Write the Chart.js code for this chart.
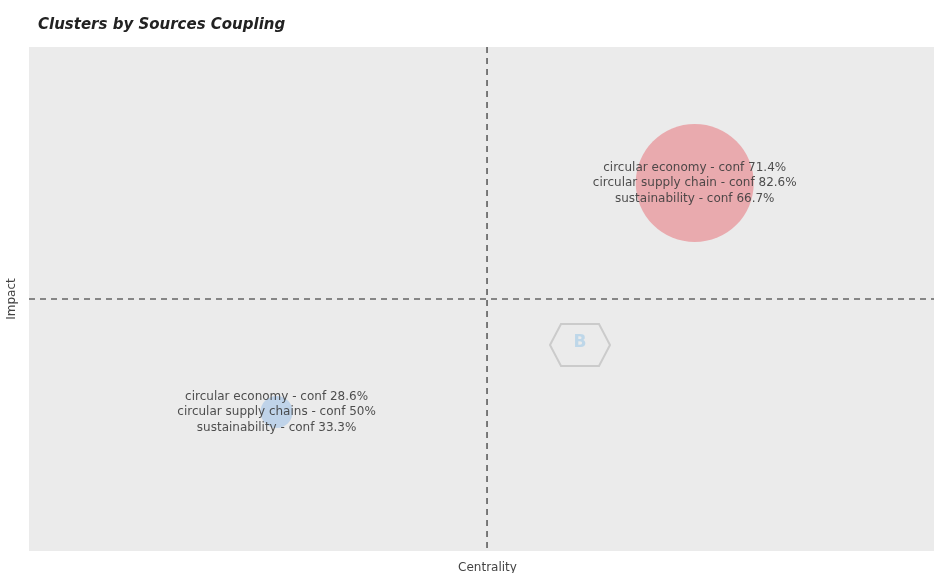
<!DOCTYPE html>
<html>
<head>
<meta charset="utf-8">
<script src="https://cdn.jsdelivr.net/npm/chart.js@4"></script>
<style>
  html, body { margin: 0; padding: 0; background: #ffffff; overflow: hidden; }
  #wrap { position: relative; width: 946px; height: 573px; }
</style>
</head>
<body>
<div id="wrap"><canvas id="c" width="946" height="573"></canvas></div>
<script>
// ---- data ----
const chartTitle = "Clusters by Sources Coupling";
const xAxisTitle = "Centrality";
const yAxisTitle = "Impact";
const clusterCentrality = [0.726, 0.270];
const clusterImpact = [0.730, 0.276];
const clusterSize = [59, 16];
const clusterColors = ["#e9aaae", "#bfd3e9"];
const clusterLabels = [
  ["circular economy - conf 71.4%", "circular supply chain - conf 82.6%", "sustainability - conf 66.7%"],
  ["circular economy - conf 28.6%", "circular supply chains - conf 50%", "sustainability - conf 33.3%"]
];
const meanCentrality = 0.4995;
const meanImpact = 0.5;

const points = clusterCentrality.map((x, i) => ({ x: x, y: clusterImpact[i], r: clusterSize[i] }));

const decor = {
  id: 'decor',
  beforeDatasetsDraw(chart) {
    const { ctx, chartArea: a } = chart;
    ctx.save();
    // watermark hexagon
    const cx = a.left + (580 - 29) / 917 * a.width;
    const cy = a.top + (345 - 47) / 504 * a.height;
    ctx.strokeStyle = 'rgba(200,200,200,0.9)';
    ctx.lineWidth = 2;
    ctx.beginPath();
    ctx.moveTo(cx - 30, cy);
    ctx.lineTo(cx - 19, cy - 21);
    ctx.lineTo(cx + 19, cy - 21);
    ctx.lineTo(cx + 30, cy);
    ctx.lineTo(cx + 19, cy + 21);
    ctx.lineTo(cx - 19, cy + 21);
    ctx.closePath();
    ctx.stroke();
    ctx.fillStyle = 'rgba(175,208,232,0.75)';
    ctx.font = 'bold 17px "DejaVu Sans"';
    ctx.textAlign = 'center';
    ctx.textBaseline = 'middle';
    ctx.fillText('B', cx, cy - 2);
    ctx.restore();
  },
  beforeDraw(chart) {
    const { ctx, chartArea: a } = chart;
    ctx.save();
    ctx.fillStyle = '#ebebeb';
    ctx.fillRect(a.left, a.top, a.right - a.left, a.bottom - a.top);
    // title
    ctx.fillStyle = '#222';
    ctx.font = 'italic bold 15px "DejaVu Sans"';
    ctx.textBaseline = 'alphabetic';
    ctx.textAlign = 'left';
    ctx.fillText(chartTitle, 38, 29);
    ctx.restore();
  },
  afterDatasetsDraw(chart) {
    const { ctx, chartArea: a, scales } = chart;
    ctx.save();
    // dashed mean lines
    ctx.strokeStyle = '#666666';
    ctx.lineWidth = 1.7;
    ctx.setLineDash([6, 5]);
    const xm = scales.x.getPixelForValue(meanCentrality);
    const ym = scales.y.getPixelForValue(meanImpact);
    ctx.beginPath();
    ctx.moveTo(xm, a.top); ctx.lineTo(xm, a.bottom);
    ctx.moveTo(a.left, ym); ctx.lineTo(a.right, ym);
    ctx.stroke();
    ctx.setLineDash([]);
    // labels
    ctx.fillStyle = 'rgba(60,60,60,0.9)';
    ctx.font = '12px "DejaVu Sans"';
    ctx.textAlign = 'center';
    ctx.textBaseline = 'middle';
    clusterLabels.forEach((lines, i) => {
      const px = scales.x.getPixelForValue(clusterCentrality[i]);
      const py = scales.y.getPixelForValue(clusterImpact[i]);
      const lh = 15.5;
      lines.forEach((t, j) => {
        ctx.fillText(t, px, py + (j - (lines.length - 1) / 2) * lh);
      });
    });
    ctx.restore();
  }
};

new Chart(document.getElementById('c'), {
  type: 'bubble',
  data: {
    datasets: [{
      data: points,
      backgroundColor: clusterColors,
      borderWidth: 0,
      hoverRadius: 0
    }]
  },
  options: {
    responsive: false,
    animation: false,
    events: [],
    layout: { autoPadding: false, padding: { top: 47, left: 0, right: 0, bottom: 0 } },
    plugins: { legend: { display: false }, tooltip: { enabled: false }, title: { display: false } },
    scales: {
      x: {
        type: 'linear', min: 0, max: 1,
        ticks: { display: false },
        grid: { display: false },
        border: { display: false },
        title: { display: true, text: xAxisTitle, color: '#444', font: { family: 'DejaVu Sans', size: 12 }, padding: { top: 0, bottom: -2 } },
        afterFit: (s) => { s.height = 22; }
      },
      y: {
        type: 'linear', min: 0, max: 1,
        ticks: { display: false },
        grid: { display: false },
        border: { display: false },
        title: { display: true, text: yAxisTitle, color: '#444', font: { family: 'DejaVu Sans', size: 12 }, padding: { top: 5, bottom: 0 } },
        afterFit: (s) => { s.width = 29; }
      }
    }
  },
  plugins: [decor]
});
</script>
</body>
</html>
